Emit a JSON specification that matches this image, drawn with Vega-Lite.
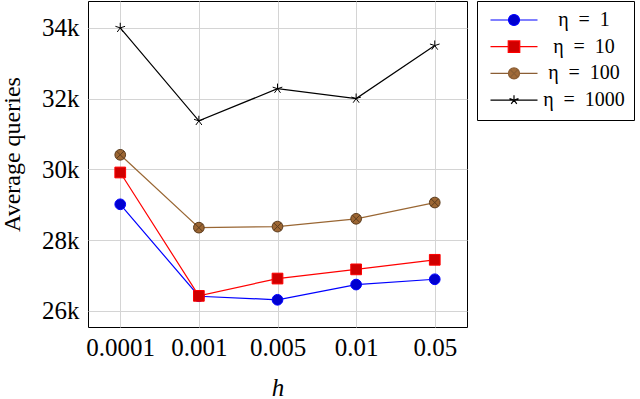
{
  "$schema": "https://vega.github.io/schema/vega-lite/v6.json",
  "autosize": "none",
  "width": 379,
  "height": 326,
  "padding": {"left": 88, "top": 1, "right": 173, "bottom": 72},
  "background": "white",
  "config": {
    "view": {"stroke": "black", "strokeWidth": 1},
    "font": "Liberation Serif",
    "axis": {
      "labelFont": "Liberation Serif",
      "titleFont": "Liberation Serif",
      "labelColor": "black",
      "titleColor": "black",
      "titleFontWeight": "normal",
      "domain": false,
      "ticks": false,
      "tickSize": 0,
      "gridColor": "#d4d4d4",
      "gridWidth": 1,
      "gridOpacity": 1
    },
    "legend": {"symbolOpacity": 1}
  },
  "data": {
    "values": [
      {"h": "0.0001", "series": "η = 1", "q": 29010},
      {"h": "0.001", "series": "η = 1", "q": 26410},
      {"h": "0.005", "series": "η = 1", "q": 26310},
      {"h": "0.01", "series": "η = 1", "q": 26740},
      {"h": "0.05", "series": "η = 1", "q": 26890},
      {"h": "0.0001", "series": "η = 10", "q": 29910},
      {"h": "0.001", "series": "η = 10", "q": 26420},
      {"h": "0.005", "series": "η = 10", "q": 26910},
      {"h": "0.01", "series": "η = 10", "q": 27170},
      {"h": "0.05", "series": "η = 10", "q": 27440},
      {"h": "0.0001", "series": "η = 100", "q": 30410},
      {"h": "0.001", "series": "η = 100", "q": 28350},
      {"h": "0.005", "series": "η = 100", "q": 28380},
      {"h": "0.01", "series": "η = 100", "q": 28600},
      {"h": "0.05", "series": "η = 100", "q": 29060},
      {"h": "0.0001", "series": "η = 1000", "q": 34000},
      {"h": "0.001", "series": "η = 1000", "q": 31370},
      {"h": "0.005", "series": "η = 1000", "q": 32280},
      {"h": "0.01", "series": "η = 1000", "q": 32000},
      {"h": "0.05", "series": "η = 1000", "q": 33500}
    ]
  },
  "encoding": {
    "x": {
      "field": "h",
      "type": "ordinal",
      "sort": ["0.0001", "0.001", "0.005", "0.01", "0.05"],
      "scale": {"type": "point", "padding": 0.41},
      "axis": {
        "title": "h",
        "titleFontStyle": "italic",
        "titleFontSize": 25,
        "titlePadding": 15,
        "labelFontSize": 25,
        "labelPadding": 8,
        "labelAngle": 0,
        "grid": true
      }
    },
    "y": {
      "field": "q",
      "type": "quantitative",
      "scale": {"domain": [25540, 34760], "nice": false, "zero": false},
      "axis": {
        "title": "Average queries",
        "titleFontSize": 24,
        "titlePadding": 17,
        "titleY": 153,
        "labelFontSize": 25,
        "labelPadding": 9,
        "values": [26000, 28000, 30000, 32000, 34000],
        "labelExpr": "format(datum.value/1000,'d') + 'k'",
        "grid": true
      }
    }
  },
  "layer": [
    {
      "mark": {"type": "line", "strokeWidth": 1.2},
      "encoding": {
        "detail": {"field": "series", "type": "nominal"},
        "color": {
          "condition": [
            {"test": "datum.series === 'η = 1'", "value": "#0000ff"},
            {"test": "datum.series === 'η = 10'", "value": "#ff0000"},
            {"test": "datum.series === 'η = 100'", "value": "#996633"}
          ],
          "value": "#000000"
        }
      }
    },
    {
      "mark": {"type": "point", "filled": true, "opacity": 1, "size": 115, "strokeWidth": 1},
      "encoding": {
        "shape": {
          "condition": [
            {"test": "datum.series === 'η = 1'", "value": "circle"},
            {"test": "datum.series === 'η = 10'", "value": "square"},
            {"test": "datum.series === 'η = 100'", "value": "M1,0A1,1,0,1,1,-1,0A1,1,0,1,1,1,0Z M-0.707,-0.707L0.707,0.707M-0.707,0.707L0.707,-0.707"}
          ],
          "value": "M0,0L0,-0.95M0,0L0.9,-0.29M0,0L-0.9,-0.29M0,0L-0.56,0.77M0,0L0.56,0.77"
        },
        "fill": {
          "condition": [
            {"test": "datum.series === 'η = 1'", "value": "#0000d0"},
            {"test": "datum.series === 'η = 10'", "value": "#d00000"},
            {"test": "datum.series === 'η = 100'", "value": "#9c6633"}
          ],
          "value": "transparent"
        },
        "stroke": {
          "condition": [
            {"test": "datum.series === 'η = 1'", "value": "#0000ff"},
            {"test": "datum.series === 'η = 10'", "value": "#ff0000"},
            {"test": "datum.series === 'η = 100'", "value": "#5c3d1f"}
          ],
          "value": "#000000"
        }
      }
    },
    {
      "mark": {"type": "point", "filled": true, "opacity": 0},
      "encoding": {
        "fill": {
          "field": "series",
          "type": "nominal",
          "scale": {
            "domain": ["η = 1", "η = 10", "η = 100", "η = 1000"],
            "range": ["#0000d0", "#d00000", "#a06a38", "#000000"]
          },
          "legend": {
            "title": null,
            "orient": "none",
            "legendX": 389,
            "legendY": 0,
            "strokeColor": "black",
            "fillColor": "white",
            "padding": 9,
            "cornerRadius": 0,
            "symbolSize": 100,
            "symbolStrokeWidth": 1.2,
            "symbolOffset": 18,
            "labelFont": "Liberation Serif",
            "labelFontSize": 20,
            "labelColor": "black",
            "labelAlign": "center",
            "labelOffset": 60,
            "rowPadding": 6.7,
            "labelExpr": "replace(datum.label, ' = ', '\u2002=\u2002')"
          }
        },
        "stroke": {
          "field": "series",
          "type": "nominal",
          "scale": {
            "domain": ["η = 1", "η = 10", "η = 100", "η = 1000"],
            "range": ["#0000ff", "#ff0000", "#8b5e34", "#000000"]
          },
          "legend": {"title": null}
        },
        "shape": {
          "field": "series",
          "type": "nominal",
          "scale": {
            "domain": ["η = 1", "η = 10", "η = 100", "η = 1000"],
            "range": [
              "M-4.7,0H-1.1M1.1,0H4.7M1.1,0A1.1,1.1,0,1,1,-1.1,0A1.1,1.1,0,1,1,1.1,0Z",
              "M-4.7,0H-1.15M1.15,0H4.7M-1.15,-1.15H1.15V1.15H-1.15Z",
              "M-4.7,0H-1.1M1.1,0H4.7M1.1,0A1.1,1.1,0,1,1,-1.1,0A1.1,1.1,0,1,1,1.1,0Z M-0.78,-0.78L0.78,0.78M-0.78,0.78L0.78,-0.78",
              "M-4.7,0H4.7M0,0L0,-0.95M0,0L0.9,-0.29M0,0L-0.9,-0.29M0,0L-0.56,0.77M0,0L0.56,0.77"
            ]
          },
          "legend": {"title": null}
        }
      }
    }
  ]
}
